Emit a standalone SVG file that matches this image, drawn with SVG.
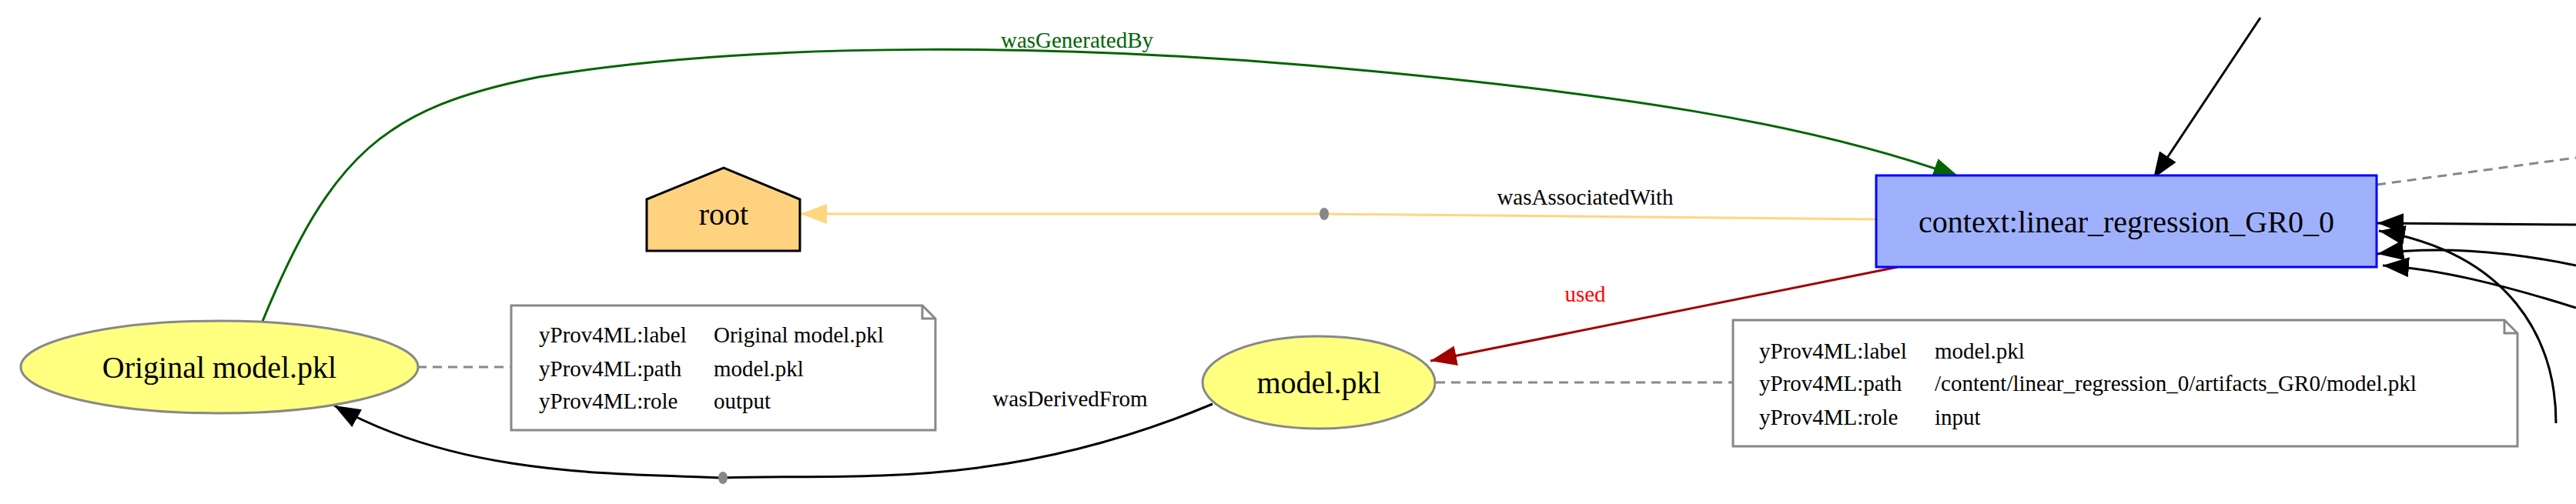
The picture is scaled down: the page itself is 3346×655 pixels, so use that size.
<svg xmlns="http://www.w3.org/2000/svg" width="3346" height="655" viewBox="0 0 3346 655">
<style>
text{font-family:"Liberation Serif","Times New Roman",serif}
.big{font-size:40px}
.sm{font-size:29px}
.note{fill:#fff;stroke:#888;stroke-width:3}
.ent{fill:#ffff80;stroke:#888;stroke-width:3}
.dash{stroke:#888;stroke-width:3;stroke-dasharray:12,8;fill:none}
.e{fill:none;stroke-width:3}
</style>
<defs>
<marker id="ab" markerWidth="10" markerHeight="8" refX="10" refY="4" orient="auto" markerUnits="userSpaceOnUse" viewBox="0 0 10 8"><path d="M0,0L10,4L0,8z" fill="#000"/></marker>
<marker id="abk" markerWidth="34" markerHeight="26" refX="34" refY="13" orient="auto" markerUnits="userSpaceOnUse"><path d="M0,0L34,13L0,26z" fill="#000"/></marker>
<marker id="ag" markerWidth="34" markerHeight="26" refX="34" refY="13" orient="auto" markerUnits="userSpaceOnUse"><path d="M0,0L34,13L0,26z" fill="#006400"/></marker>
<marker id="ar" markerWidth="34" markerHeight="26" refX="34" refY="13" orient="auto" markerUnits="userSpaceOnUse"><path d="M0,0L34,13L0,26z" fill="#a00000"/></marker>
<marker id="ay" markerWidth="34" markerHeight="26" refX="34" refY="13" orient="auto" markerUnits="userSpaceOnUse"><path d="M0,0L34,13L0,26z" fill="#ffd580"/></marker>
</defs>
<g id="connectors">
<path class="e" stroke="#006400" d="M340,420 C430,200 500,140 700,100 C1000,50 1400,60 1700,85 C2100,120 2350,160 2545,230" marker-end="url(#ag)"/>
<text x="1399" y="62" text-anchor="middle" class="sm" fill="#006400">wasGeneratedBy</text>
<path class="e" stroke="#ffd580" d="M2437,285 L1714,278 L1040,278" marker-end="url(#ay)"/>
<ellipse cx="1720" cy="278" rx="6" ry="8" fill="#888"/>
<text x="2059" y="266" text-anchor="middle" class="sm">wasAssociatedWith</text>
<path class="e" stroke="#a00000" d="M2465,347 L1858,469" marker-end="url(#ar)"/>
<text x="2059" y="392" text-anchor="middle" class="sm" fill="#ff0000">used</text>
<path class="e" stroke="#000" d="M1575,525 C1300,640 1100,615 939,621 C800,615 600,620 434,527" marker-end="url(#abk)"/>
<ellipse cx="939" cy="621" rx="6" ry="8" fill="#888"/>
<text x="1390" y="528" text-anchor="middle" class="sm">wasDerivedFrom</text>
<path class="e" stroke="#000" d="M2936,23 L2797,232" marker-end="url(#abk)"/>
<path class="dash" d="M3087,240 L3346,205"/>
<path class="e" stroke="#000" d="M3346,292 L3088,290" marker-end="url(#abk)"/>
<path class="e" stroke="#000" d="M3346,345 C3250,325 3160,320 3088,330" marker-end="url(#abk)"/>
<path class="e" stroke="#000" d="M3346,400 C3250,370 3170,350 3095,345" marker-end="url(#abk)"/>
<path class="e" stroke="#000" d="M3320,550 C3320,440 3260,330 3090,300" marker-end="url(#abk)"/>
<path class="dash" d="M542,477 L664,477"/>
<path class="dash" d="M1865,497 L2251,497"/>
</g>
<g id="original_model">
<ellipse class="ent" cx="285" cy="477" rx="258" ry="60"/>
<text x="285" y="491" text-anchor="middle" class="big">Original model.pkl</text>
</g>
<g id="root">
<path d="M840,259 L940,218 L1039,259 L1039,326 L840,326 Z" fill="#ffd27f" stroke="#000" stroke-width="3"/>
<text x="940" y="292" text-anchor="middle" class="big">root</text>
</g>
<g id="note1">
<path class="note" d="M664,397 L1198,397 L1215,414 L1215,559 L664,559 Z"/>
<path d="M1198,397 L1198,414 L1215,414" fill="none" stroke="#888" stroke-width="3"/>
<text x="700" y="445" class="sm">yProv4ML:label</text><text x="927" y="445" class="sm">Original model.pkl</text>
<text x="700" y="489" class="sm">yProv4ML:path</text><text x="927" y="489" class="sm">model.pkl</text>
<text x="700" y="531" class="sm">yProv4ML:role</text><text x="927" y="531" class="sm">output</text>
</g>
<g id="model_pkl">
<ellipse class="ent" cx="1713" cy="497" rx="151" ry="60"/>
<text x="1713" y="511" text-anchor="middle" class="big">model.pkl</text>
</g>
<g id="note2">
<path class="note" d="M2251,416 L3253,416 L3270,433 L3270,580 L2251,580 Z"/>
<path d="M3253,416 L3253,433 L3270,433" fill="none" stroke="#888" stroke-width="3"/>
<text x="2285" y="466" class="sm">yProv4ML:label</text><text x="2513" y="466" class="sm">model.pkl</text>
<text x="2285" y="508" class="sm">yProv4ML:path</text><text x="2513" y="508" class="sm">/content/linear_regression_0/artifacts_GR0/model.pkl</text>
<text x="2285" y="552" class="sm">yProv4ML:role</text><text x="2513" y="552" class="sm">input</text>
</g>
<g id="context">
<rect x="2437" y="228" width="650" height="119" fill="#9fb1fc" stroke="#0000ff" stroke-width="3"/>
<text x="2762" y="302" text-anchor="middle" class="big">context:linear_regression_GR0_0</text>
</g>
</svg>
